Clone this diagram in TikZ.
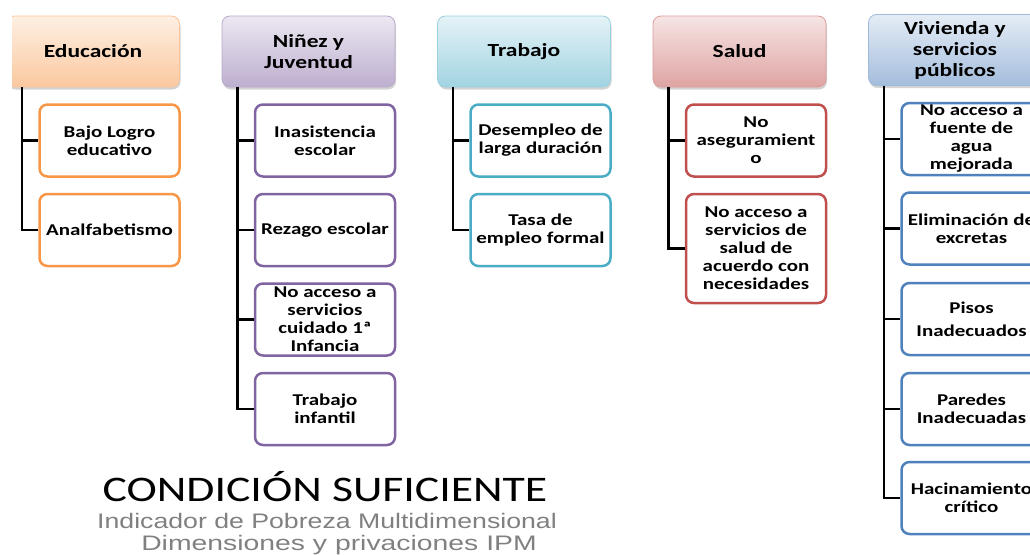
\documentclass[tikz,border=0pt]{standalone}
\usepackage{fontspec}
\setmainfont{Carlito}[FakeStretch=1.27]
\newfontfamily\ipmfont{Liberation Sans}[FakeStretch=1.27]
\newfontfamily\ipmwide{Liberation Sans}[FakeStretch=1.35]
\usetikzlibrary{shadows}

\definecolor{eduC}{RGB}{247,150,70}
\definecolor{ninC}{RGB}{128,100,162}
\definecolor{traC}{RGB}{75,172,198}
\definecolor{salC}{RGB}{192,80,77}
\definecolor{vivC}{RGB}{79,129,189}
\definecolor{ipmGray}{RGB}{128,128,128}

\begin{document}
\begin{tikzpicture}[
    x=1pt, y=-1pt,
    dim/.style={rectangle, rounded corners=8pt, draw=#1!55, line width=0.8pt,
        top color=#1!15, bottom color=#1!52,
        minimum width=173pt, minimum height=71pt, align=center, inner sep=2pt,
        font=\fontsize{18.5}{21}\selectfont\bfseries, text=black,
        drop shadow={shadow xshift=1pt, shadow yshift=-2.5pt, opacity=0.35}},
    priv/.style={rectangle, rounded corners=8pt, draw=#1, line width=2.5pt, fill=white,
        minimum width=140pt, minimum height=72pt, align=center, inner sep=1pt,
        font=\fontsize{16.5}{18}\selectfont\bfseries, text=black},
    rama/.style={line width=2.5pt}
]
\useasboundingbox (0,0) rectangle (1030,554);

\begin{scope}
\clip (12,0) rectangle (1030,554);

% Educacion
\node[dim=eduC] (edu) at (93,51.5) {Educación};
\node[priv=eduC] (edu1) at (109.5,140.5) {Bajo Logro\\educativo};
\node[priv=eduC] (edu2) at (109.5,230) {Analfabetismo};

% Ninez y Juventud
\node[dim=ninC] (nin) at (308.5,51.5) {Niñez y\\Juventud};
\node[priv=ninC] (nin1) at (325,140.5) {Inasistencia\\escolar};
\node[priv=ninC] (nin2) at (325,230) {Rezago escolar};
\node[priv=ninC] (nin3) at (325,319.5) {No acceso a\\servicios\\cuidado 1ª\\Infancia};
\node[priv=ninC] (nin4) at (325,409) {Trabajo\\infantil};

% Trabajo
\node[dim=traC] (tra) at (524,51.5) {Trabajo};
\node[priv=traC] (tra1) at (540.5,140.5) {Desempleo de\\larga duración};
\node[priv=traC] (tra2) at (540.5,230) {Tasa de\\empleo formal};

% Salud
\node[dim=salC] (sal) at (739.5,51.5) {Salud};
\node[priv=salC] (sal1) at (756,140.5) {No\\aseguramient\\o};
\node[priv=salC, minimum height=109pt] (sal2) at (756,248.5) {No acceso a\\servicios de\\salud de\\acuerdo con\\necesidades};

% Vivienda y servicios publicos
\node[dim=vivC] (viv) at (955,50) {Vivienda y\\servicios\\públicos};
\node[priv=vivC] (viv1) at (971.5,139) {No acceso a\\fuente de\\agua\\mejorada};
\node[priv=vivC] (viv2) at (971.5,228.5) {Eliminación de\\excretas};
\node[priv=vivC] (viv3) at (971.5,319) {Pisos\\[5pt]Inadecuados};
\node[priv=vivC] (viv4) at (971.5,409) {Paredes\\Inadecuadas};
\node[priv=vivC] (viv5) at (971.5,498) {Hacinamiento\\crítico};

% Ramas
\draw[rama] ([xshift=16pt]edu.south west) |- (edu1.west);
\draw[rama] ([xshift=16pt]edu.south west) |- (edu2.west);
\draw[rama] ([xshift=16pt]nin.south west) |- (nin1.west);
\draw[rama] ([xshift=16pt]nin.south west) |- (nin2.west);
\draw[rama] ([xshift=16pt]nin.south west) |- (nin3.west);
\draw[rama] ([xshift=16pt]nin.south west) |- (nin4.west);
\draw[rama] ([xshift=16pt]tra.south west) |- (tra1.west);
\draw[rama] ([xshift=16pt]tra.south west) |- (tra2.west);
\draw[rama] ([xshift=16pt]sal.south west) |- (sal1.west);
\draw[rama] ([xshift=16pt]sal.south west) |- (sal2.west);
\draw[rama] ([xshift=16pt]viv.south west) |- (viv1.west);
\draw[rama] ([xshift=16pt]viv.south west) |- (viv2.west);
\draw[rama] ([xshift=16pt]viv.south west) |- (viv3.west);
\draw[rama] ([xshift=16pt]viv.south west) |- (viv4.west);
\draw[rama] ([xshift=16pt]viv.south west) |- (viv5.west);
\end{scope}

% Titulo
\node[anchor=base, inner sep=0pt, font=\fontsize{36}{36}\selectfont] (cond) at (325,501) {CONDICIÓN SUFICIENTE};
\node[anchor=base, inner sep=0pt, font=\ipmfont\fontsize{21}{21}\selectfont, text=ipmGray] (ipm1) at (327,528) {Indicador de Pobreza Multidimensional};
\node[anchor=base, inner sep=0pt, font=\ipmwide\fontsize{21}{21}\selectfont, text=ipmGray] (ipm2) at (339,550) {Dimensiones y privaciones IPM};

\end{tikzpicture}
\end{document}
